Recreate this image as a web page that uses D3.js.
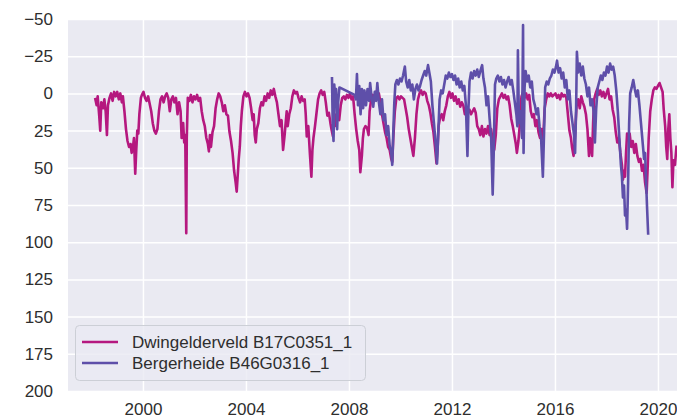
<!DOCTYPE html>
<html>
<head>
<meta charset="utf-8">
<script src="https://cdn.jsdelivr.net/npm/d3@7"></script>
<style>
  body { margin: 0; background: #fff; }
  svg { display: block; font-family: "Liberation Sans", Arial, sans-serif; }
  .grid line { stroke: #fff; stroke-width: 1.5; }
  .grid path { display: none; }
  .axis path, .axis line { display: none; }
  .axis text { fill: #2e2e2e; font-size: 17px; }
  .legend text { fill: #2e2e2e; font-size: 17px; }
</style>
</head>
<body>
<div id="chart-area"></div>
<script>
// Groundwater level series, [decimal year, level]
const dwingelderveld = [
  [1998.14,3],[1998.20,8],[1998.24,2],[1998.30,15],[1998.34,25],[1998.38,6],[1998.45,10],[1998.50,4],[1998.55,12],[1998.60,28],[1998.64,8],[1998.70,3],[1998.76,0],[1998.82,5],[1998.88,-1],[1998.94,2],
  [1999.00,-1],[1999.06,4],[1999.12,0],[1999.18,6],[1999.22,2],[1999.28,12],[1999.34,24],[1999.40,32],[1999.46,36],[1999.52,34],[1999.56,40],[1999.60,38],[1999.65,30],[1999.70,54],[1999.74,38],[1999.78,25],[1999.82,27],[1999.86,14],[1999.92,3],[1999.96,1],
  [2000.02,-1],[2000.08,3],[2000.14,5],[2000.20,2],[2000.26,7],[2000.32,12],[2000.38,20],[2000.44,25],[2000.50,27],[2000.56,24],[2000.62,12],[2000.68,4],[2000.74,2],[2000.80,6],[2000.86,2],[2000.92,0],[2000.98,3],
  [2001.04,12],[2001.10,4],[2001.16,2],[2001.22,6],[2001.28,3],[2001.34,14],[2001.40,6],[2001.46,12],[2001.50,30],[2001.56,20],[2001.60,33],[2001.64,28],[2001.68,94],[2001.70,30],[2001.74,3],[2001.80,5],[2001.86,1],[2001.92,6],[2001.98,2],
  [2002.04,4],[2002.10,1],[2002.16,5],[2002.22,3],[2002.28,12],[2002.34,18],[2002.40,22],[2002.46,30],[2002.52,34],[2002.56,39],[2002.60,28],[2002.64,36],[2002.70,26],[2002.76,22],[2002.82,10],[2002.88,4],[2002.94,0],
  [2003.00,2],[2003.06,6],[2003.12,12],[2003.18,8],[2003.24,14],[2003.30,15],[2003.36,26],[2003.42,32],[2003.48,40],[2003.54,52],[2003.60,60],[2003.64,66],[2003.68,55],[2003.72,44],[2003.76,36],[2003.80,22],[2003.84,12],[2003.90,2],[2003.96,-1],
  [2004.02,2],[2004.08,0],[2004.14,3],[2004.20,10],[2004.26,18],[2004.30,14],[2004.34,28],[2004.38,33],[2004.42,24],[2004.48,20],[2004.54,10],[2004.60,6],[2004.66,8],[2004.72,2],[2004.78,5],[2004.84,0],[2004.90,3],[2004.96,-2],
  [2005.02,1],[2005.08,-3],[2005.14,2],[2005.20,6],[2005.26,14],[2005.32,22],[2005.38,18],[2005.44,38],[2005.50,28],[2005.54,20],[2005.58,12],[2005.62,22],[2005.68,14],[2005.74,10],[2005.80,2],[2005.86,-2],[2005.92,0],[2005.98,-1],
  [2006.04,3],[2006.10,6],[2006.16,2],[2006.22,5],[2006.28,4],[2006.32,14],[2006.36,29],[2006.42,22],[2006.48,40],[2006.54,56],[2006.58,38],[2006.62,30],[2006.68,22],[2006.74,13],[2006.80,4],[2006.86,0],[2006.92,-2],[2006.98,1],
  [2007.04,-1],[2007.10,6],[2007.16,15],[2007.22,13],[2007.28,20],[2007.32,24],[2007.38,29],[2007.44,14],[2007.50,22],[2007.56,10],[2007.62,18],[2007.68,8],[2007.74,3],[2007.80,2],[2007.86,4],[2007.92,1],[2007.98,3],
  [2008.04,0],[2008.10,4],[2008.16,2],[2008.22,14],[2008.28,24],[2008.34,32],[2008.40,38],[2008.44,53],[2008.50,42],[2008.54,30],[2008.58,24],[2008.64,22],[2008.70,23],[2008.76,28],[2008.80,12],[2008.86,4],[2008.92,1],[2008.98,3],
  [2009.04,-1],[2009.10,2],[2009.16,0],[2009.22,6],[2009.28,14],[2009.34,20],[2009.40,26],[2009.46,30],[2009.52,36],[2009.58,38],[2009.64,44],[2009.68,46],[2009.72,30],[2009.78,12],[2009.84,3],[2009.90,2],[2009.96,4],
  [2010.02,2],[2010.08,3],[2010.14,4],[2010.20,10],[2010.26,16],[2010.32,24],[2010.38,30],[2010.44,36],[2010.50,42],[2010.56,30],[2010.62,14],[2010.68,4],[2010.74,0],[2010.80,-2],[2010.86,1],[2010.92,-1],[2010.98,0],
  [2011.04,5],[2011.10,8],[2011.16,13],[2011.22,20],[2011.28,26],[2011.34,36],[2011.40,47],[2011.44,38],[2011.48,22],[2011.54,16],[2011.60,14],[2011.66,18],[2011.72,12],[2011.78,8],[2011.84,2],[2011.90,-1],[2011.96,3],
  [2012.02,0],[2012.08,5],[2012.14,2],[2012.20,7],[2012.26,4],[2012.32,9],[2012.38,6],[2012.44,8],[2012.50,14],[2012.56,10],[2012.62,13],[2012.68,11],[2012.74,14],[2012.80,12],[2012.86,10],[2012.92,13],[2012.98,22],
  [2013.04,24],[2013.10,28],[2013.16,22],[2013.22,29],[2013.28,24],[2013.34,27],[2013.40,22],[2013.46,28],[2013.52,24],[2013.58,32],[2013.64,38],[2013.70,28],[2013.76,10],[2013.82,4],[2013.88,2],[2013.94,0],
  [2014.00,3],[2014.06,1],[2014.12,4],[2014.18,2],[2014.24,8],[2014.30,17],[2014.36,22],[2014.42,28],[2014.48,34],[2014.52,40],[2014.58,32],[2014.62,24],[2014.66,10],[2014.70,2],[2014.76,-1],[2014.82,3],[2014.88,0],[2014.94,4],
  [2015.00,1],[2015.06,12],[2015.12,16],[2015.18,14],[2015.24,22],[2015.30,18],[2015.36,26],[2015.42,30],[2015.48,24],[2015.54,31],[2015.60,10],[2015.66,4],[2015.72,0],[2015.78,2],[2015.84,0],[2015.90,2],[2015.96,1],
  [2016.02,0],[2016.08,3],[2016.14,1],[2016.20,4],[2016.26,0],[2016.32,2],[2016.38,1],[2016.44,3],[2016.50,14],[2016.56,25],[2016.62,30],[2016.66,36],[2016.72,42],[2016.76,34],[2016.80,20],[2016.84,8],[2016.90,4],[2016.96,10],
  [2017.02,2],[2017.08,6],[2017.14,9],[2017.20,14],[2017.26,24],[2017.32,42],[2017.36,30],[2017.40,36],[2017.44,42],[2017.48,20],[2017.52,4],[2017.58,0],[2017.64,-3],[2017.70,1],[2017.76,-2],[2017.82,2],[2017.88,-1],[2017.94,3],
  [2018.00,0],[2018.06,-3],[2018.12,4],[2018.18,2],[2018.24,11],[2018.30,16],[2018.36,26],[2018.42,33],[2018.48,30],[2018.54,40],[2018.60,48],[2018.64,58],[2018.68,52],[2018.72,56],[2018.76,40],[2018.80,27],[2018.86,30],[2018.90,27],[2018.96,36],
  [2019.02,32],[2019.08,40],[2019.14,34],[2019.20,42],[2019.26,46],[2019.32,44],[2019.38,52],[2019.44,48],[2019.50,60],[2019.56,67],[2019.60,50],[2019.64,30],[2019.70,12],[2019.76,4],[2019.82,-2],[2019.88,-4],[2019.94,-3],
  [2020.00,-5],[2020.06,-7],[2020.12,-4],[2020.18,-1],[2020.22,10],[2020.28,22],[2020.32,36],[2020.36,44],[2020.40,24],[2020.44,14],[2020.48,30],[2020.52,40],[2020.56,63],[2020.60,45],[2020.66,48],[2020.72,35]
];

const bergerheide = [
  [2007.34,-11],[2007.37,22],[2007.40,32],[2007.43,-6],[2007.47,6],[2007.50,-3],[2007.54,24],[2007.58,6],[2007.63,-4],
  [2008.22,1],[2008.27,4],[2008.31,-13],[2008.35,8],[2008.40,-5],[2008.45,14],[2008.50,-3],[2008.55,10],[2008.60,-2],[2008.66,8],[2008.72,-3],[2008.78,5],[2008.82,-7],[2008.88,3],[2008.94,9],
  [2009.00,-1],[2009.05,5],[2009.10,-7],[2009.16,6],[2009.22,14],[2009.28,4],[2009.34,18],[2009.40,14],[2009.46,28],[2009.52,22],[2009.58,35],[2009.64,40],[2009.68,48],[2009.72,26],[2009.76,6],[2009.80,-6],[2009.86,-9],[2009.92,-6],[2009.98,-10],
  [2010.04,-8],[2010.10,-12],[2010.17,-18],[2010.22,-8],[2010.28,-4],[2010.34,-9],[2010.40,-2],[2010.46,-6],[2010.52,4],[2010.58,-3],[2010.64,-6],[2010.70,-2],[2010.76,-5],[2010.82,-9],[2010.88,-12],[2010.94,-15],
  [2011.00,-12],[2011.07,-19],[2011.13,-13],[2011.18,-8],[2011.24,8],[2011.30,20],[2011.36,32],[2011.42,47],[2011.46,30],[2011.52,4],[2011.58,-2],[2011.64,0],[2011.70,-6],[2011.76,-12],[2011.82,-10],[2011.88,-14],[2011.94,-11],
  [2012.00,-13],[2012.06,-9],[2012.12,-12],[2012.18,-6],[2012.24,-10],[2012.30,-4],[2012.36,-8],[2012.42,-2],[2012.48,-5],[2012.54,8],[2012.60,42],[2012.64,10],[2012.68,-8],[2012.74,-14],[2012.80,-10],[2012.86,-15],[2012.92,-12],[2012.98,-16],
  [2013.04,-11],[2013.10,-15],[2013.17,-19],[2013.22,-10],[2013.28,-4],[2013.34,8],[2013.40,2],[2013.46,17],[2013.52,30],[2013.58,68],[2013.62,40],[2013.67,-6],[2013.72,-10],[2013.78,-12],[2013.84,-8],[2013.90,-11],[2013.96,-6],
  [2014.02,-9],[2014.08,-4],[2014.14,-8],[2014.20,-11],[2014.26,-6],[2014.32,-9],[2014.38,-2],[2014.44,6],[2014.50,14],[2014.54,22],[2014.56,-29],[2014.60,20],[2014.66,12],[2014.72,30],[2014.76,-46],[2014.78,40],[2014.82,-4],[2014.86,-15],[2014.92,-8],[2014.98,-12],
  [2015.04,-4],[2015.10,-8],[2015.16,4],[2015.22,8],[2015.28,14],[2015.34,10],[2015.40,22],[2015.46,30],[2015.53,56],[2015.58,24],[2015.62,-4],[2015.68,-8],[2015.74,-6],[2015.80,-10],[2015.86,-12],[2015.92,-16],[2015.98,-14],
  [2016.04,-18],[2016.08,-22],[2016.14,-14],[2016.20,-17],[2016.26,-10],[2016.32,-14],[2016.38,-4],[2016.44,-9],[2016.50,4],[2016.56,-2],[2016.62,12],[2016.68,20],[2016.74,28],[2016.78,40],[2016.82,10],[2016.85,-28],[2016.90,-14],[2016.96,-20],
  [2017.02,-12],[2017.08,-18],[2017.14,-10],[2017.20,-6],[2017.26,2],[2017.32,-4],[2017.38,8],[2017.44,4],[2017.50,12],[2017.55,33],[2017.60,10],[2017.66,-4],[2017.72,-8],[2017.78,-12],[2017.84,-9],[2017.90,-14],[2017.96,-12],
  [2018.02,-18],[2018.08,-14],[2018.14,-20],[2018.20,-16],[2018.26,-18],[2018.32,-12],[2018.38,-2],[2018.44,12],[2018.50,30],[2018.56,48],[2018.60,56],[2018.64,70],[2018.68,62],[2018.72,82],[2018.76,78],[2018.80,91],[2018.84,60],[2018.88,20],[2018.92,0],[2018.98,-4],
  [2019.04,-9],[2019.10,-3],[2019.16,2],[2019.22,-2],[2019.28,8],[2019.34,20],[2019.40,32],[2019.46,44],[2019.50,40],[2019.54,60],[2019.58,78],[2019.62,95]
];

const seriesNames = ["Dwingelderveld B17C0351_1", "Bergerheide B46G0316_1"];
const seriesColors = ["#b5187f", "#5e4fa9"];
const yTicks = [-50, -25, 0, 25, 50, 75, 100, 125, 150, 175, 200];
const xTickYears = [2000, 2004, 2008, 2012, 2016, 2020];

// Chart area
let width = 677,
    height = 420,
    plot = {left: 68, right: 677, top: 19, bottom: 391};

let svg = d3.select("#chart-area").append("svg")
    .attr("width", width)
    .attr("height", height);

// decimal year -> Date
function toDate(d) {
    let yr = Math.floor(d);
    let start = new Date(yr, 0, 1), end = new Date(yr + 1, 0, 1);
    return new Date(start.getTime() + (d - yr) * (end - start));
}

// Scales
let x = d3.scaleTime()
    .domain([toDate(1997.087), toDate(2020.738)])
    .range([plot.left, plot.right]);

let y = d3.scaleLinear()
    .domain([-50, 200])
    .range([plot.top, plot.bottom]);

// Background
svg.append("rect")
    .attr("x", plot.left)
    .attr("y", plot.top)
    .attr("width", plot.right - plot.left)
    .attr("height", plot.bottom - plot.top)
    .attr("fill", "#eaeaf2");

// Grid
svg.append("g")
    .attr("class", "grid")
    .attr("transform", "translate(" + plot.left + ",0)")
    .call(d3.axisLeft(y).tickValues(yTicks).tickSize(-(plot.right - plot.left)).tickFormat(""));

svg.append("g")
    .attr("class", "grid")
    .attr("transform", "translate(0," + plot.bottom + ")")
    .call(d3.axisBottom(x).tickValues(xTickYears.map(toDate)).tickSize(-(plot.bottom - plot.top)).tickFormat(""));

// Lines
svg.append("clipPath")
    .attr("id", "clip")
    .append("rect")
    .attr("x", plot.left)
    .attr("y", plot.top)
    .attr("width", plot.right - plot.left)
    .attr("height", plot.bottom - plot.top);

let line = d3.line()
    .x(d => x(toDate(d[0])))
    .y(d => y(d[1]));

[dwingelderveld, bergerheide].forEach((data, i) => {
    svg.append("path")
        .datum(data)
        .attr("clip-path", "url(#clip)")
        .attr("fill", "none")
        .attr("stroke", seriesColors[i])
        .attr("stroke-width", 2.6)
        .attr("stroke-linejoin", "round")
        .attr("d", line);
});

// Axes
svg.append("g")
    .attr("class", "axis")
    .attr("transform", "translate(" + plot.left + ",0)")
    .call(d3.axisLeft(y).tickValues(yTicks).tickSize(0).tickPadding(15));

svg.append("g")
    .attr("class", "axis")
    .attr("transform", "translate(0," + plot.bottom + ")")
    .call(d3.axisBottom(x).tickValues(xTickYears.map(toDate)).tickSize(0).tickPadding(12)
        .tickFormat(d3.timeFormat("%Y")));

// Legend
let legend = svg.append("g").attr("class", "legend");

legend.append("rect")
    .attr("x", 75.5)
    .attr("y", 325.5)
    .attr("width", 290)
    .attr("height", 55)
    .attr("rx", 4)
    .attr("fill", "#eaeaf2")
    .attr("fill-opacity", 0.8)
    .attr("stroke", "#cccfd6");

seriesNames.forEach((name, i) => {
    let ly = 342 + i * 21;
    legend.append("line")
        .attr("x1", 82)
        .attr("x2", 118)
        .attr("y1", ly)
        .attr("y2", ly)
        .attr("stroke", seriesColors[i])
        .attr("stroke-width", 2.6);
    legend.append("text")
        .attr("x", 132)
        .attr("y", ly)
        .attr("dy", "0.35em")
        .text(name);
});
</script>
</body>
</html>
